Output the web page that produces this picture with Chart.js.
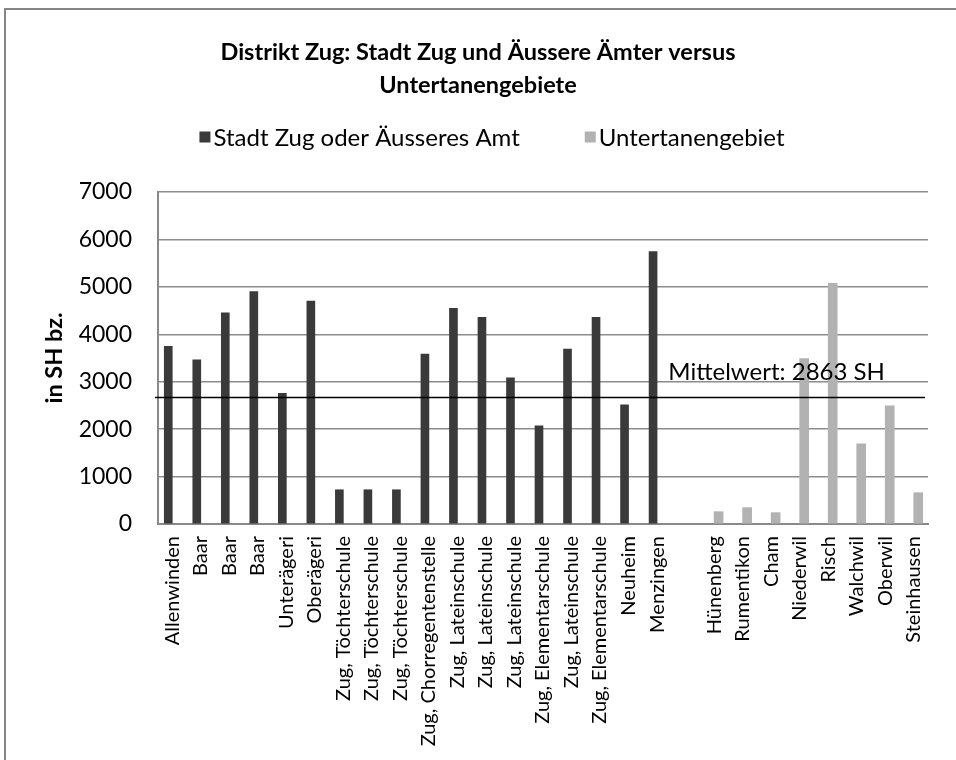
<!DOCTYPE html>
<html>
<head>
<meta charset="utf-8">
<script src="https://cdn.jsdelivr.net/npm/chart.js@4.4.0/dist/chart.umd.min.js"></script>
<style>
    html, body { margin: 0; padding: 0; background: #fff; }
    #wrap { position: relative; width: 956px; height: 760px; overflow: hidden; }
    #frame { position: absolute; left: 4px; top: 8px; width: 1000px; height: 800px;
             border-left: 2px solid #868686; border-top: 2px solid #868686; }
    canvas { position: absolute; left: 0; top: 0; }
</style>
</head>
<body>
<div id="wrap">
    <div id="frame"></div>
    <canvas id="chart" width="956" height="760"></canvas>
</div>
<script>
// Kategorien (Leerstelle trennt die beiden Gruppen)
const categories = [
    'Allenwinden', 'Baar', 'Baar', 'Baar', 'Unterägeri', 'Oberägeri',
    'Zug, Töchterschule', 'Zug, Töchterschule', 'Zug, Töchterschule',
    'Zug, Chorregentenstelle', 'Zug, Lateinschule', 'Zug, Lateinschule', 'Zug, Lateinschule',
    'Zug, Elementarschule', 'Zug, Lateinschule', 'Zug, Elementarschule', 'Neuheim', 'Menzingen',
    '',
    'Hünenberg', 'Rumentikon', 'Cham', 'Niederwil', 'Risch', 'Walchwil', 'Oberwil', 'Steinhausen'
];

// Stadt Zug oder Äusseres Amt
const stadtValues = [
    3745, 3460, 4450, 4900, 2755, 4700,
    722, 722, 722,
    3585, 4545, 4355, 3080,
    2070, 3690, 4355, 2510, 5745,
    null,
    null, null, null, null, null, null, null, null
];

// Untertanengebiet
const untertanValues = [
    null, null, null, null, null, null,
    null, null, null,
    null, null, null, null,
    null, null, null, null, null,
    null,
    260, 345, 240, 3490, 5075, 1690, 2490, 660
];

const yTicks = [0, 1000, 2000, 3000, 4000, 5000, 6000, 7000];
const meanLineValue = 2665;
const meanLabel = 'Mittelwert: 2863 SH';

const FONT = 'Lato';

// Horizontale Mittelwert-Linie mit Beschriftung
const meanLinePlugin = {
    id: 'meanLine',
    afterDatasetsDraw(chart) {
        const { ctx, chartArea, scales } = chart;
        const y = scales.y.getPixelForValue(meanLineValue);
        ctx.save();
        ctx.strokeStyle = '#000';
        ctx.lineWidth = 1.5;
        ctx.beginPath();
        ctx.moveTo(chartArea.left - 3, y);
        ctx.lineTo(chartArea.right - 3, y);
        ctx.stroke();
        ctx.fillStyle = '#000';
        ctx.font = '24px ' + FONT;
        ctx.textAlign = 'left';
        ctx.textBaseline = 'alphabetic';
        const x = scales.x.getPixelForValue(17.5) - 3;
        ctx.fillText(meanLabel, x, y - 18);
        ctx.restore();
    }
};

// Legende oberhalb der Grafik (eigene Zeichnung, Abstaende wie im Original)
const legendPlugin = {
    id: 'ownLegend',
    afterDraw(chart) {
        const { ctx } = chart;
        const box = 11, gap = 3, spacing = 65;
        ctx.save();
        ctx.font = '24px ' + FONT;
        ctx.textBaseline = 'middle';
        ctx.textAlign = 'left';
        const items = chart.data.datasets.map(ds => ({
            text: ds.label, color: ds.backgroundColor, w: ctx.measureText(ds.label).width
        }));
        let total = 0;
        items.forEach((it, i) => { total += box + gap + it.w + (i > 0 ? spacing : 0); });
        let x = 492 - total / 2;
        const y = 137;
        items.forEach(it => {
            ctx.fillStyle = it.color;
            ctx.fillRect(x, y - box / 2, box, box);
            ctx.fillStyle = '#000';
            ctx.fillText(it.text, x + box + gap, y + 1);
            x += box + gap + it.w + spacing;
        });
        ctx.restore();
    }
};

new Chart(document.getElementById('chart'), {
    type: 'bar',
    data: {
        labels: categories,
        datasets: [
            {
                label: 'Stadt Zug oder Äusseres Amt',
                data: stadtValues,
                backgroundColor: '#3a3a3a',
                barThickness: 8
            },
            {
                label: 'Untertanengebiet',
                data: untertanValues,
                backgroundColor: '#b2b2b2',
                barThickness: 9
            }
        ]
    },
    options: {
        responsive: false,
        animation: false,
        devicePixelRatio: 1,
        layout: { padding: { left: 28, right: 28, top: 0, bottom: 0 } },
        plugins: {
            title: {
                display: true,
                text: ['Distrikt Zug: Stadt Zug und Äussere Ämter versus', 'Untertanengebiete'],
                color: '#000',
                font: { family: FONT, size: 23.5, weight: 'bold', lineHeight: 1.404 },
                padding: { top: 35.5, bottom: 90.5 }
            },
            legend: { display: false },
            tooltip: { enabled: false }
        },
        scales: {
            x: {
                grouped: false,
                grid: { display: false, drawTicks: false },
                border: { color: '#898989', width: 2 },
                ticks: {
                    color: '#000',
                    font: { family: FONT, size: 20 },
                    minRotation: 90,
                    maxRotation: 90,
                    autoSkip: false,
                    padding: 12
                },
                afterFit(scale) { scale.height = 236; }
            },
            y: {
                min: 0,
                max: 7000,
                grid: { color: '#8c8c8c', lineWidth: 1.5, drawTicks: false },
                border: { color: '#898989', width: 2 },
                afterBuildTicks(scale) { scale.ticks = yTicks.map(v => ({ value: v })); },
                ticks: {
                    color: '#000',
                    font: { family: FONT, size: 23 },
                    padding: 26,
                    callback: v => String(v)
                },
                title: {
                    display: true,
                    text: 'in SH bz.',
                    color: '#000',
                    font: { family: FONT, size: 23.5, weight: 'bold', lineHeight: 1.2 },
                    padding: { top: 12, bottom: 0 }
                },
                afterFit(scale) { scale.width = 130; }
            }
        }
    },
    plugins: [meanLinePlugin, legendPlugin]
});
</script>
</body>
</html>
